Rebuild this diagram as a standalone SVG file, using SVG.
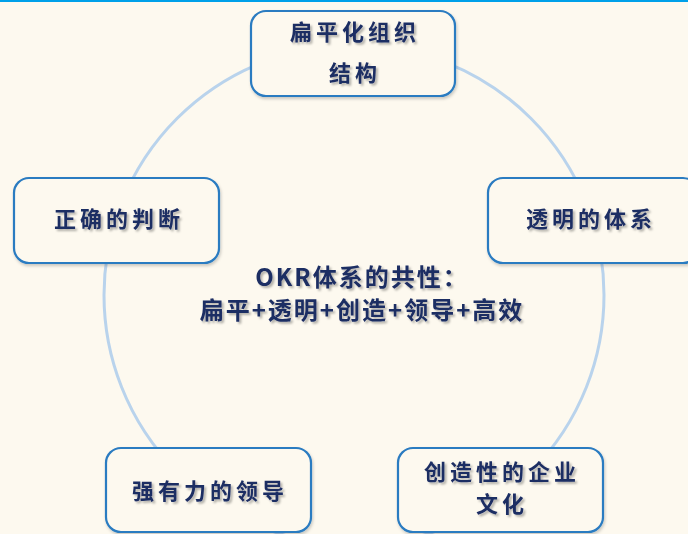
<svg xmlns="http://www.w3.org/2000/svg" width="688" height="534" viewBox="0 0 688 534">
<defs>
<filter id="ts" x="-10%" y="-30%" width="130%" height="170%">
<feGaussianBlur in="SourceAlpha" stdDeviation="1.2"/>
<feOffset dx="2" dy="2" result="b"/>
<feFlood flood-color="#000" flood-opacity="0.3"/>
<feComposite in2="b" operator="in"/>
<feMerge><feMergeNode/><feMergeNode in="SourceGraphic"/></feMerge>
</filter>
<filter id="bs" x="-10%" y="-10%" width="130%" height="130%">
<feGaussianBlur in="SourceAlpha" stdDeviation="1.5"/>
<feOffset dx="1" dy="2" result="b"/>
<feFlood flood-color="#000" flood-opacity="0.2"/>
<feComposite in2="b" operator="in"/>
<feMerge><feMergeNode/><feMergeNode in="SourceGraphic"/></feMerge>
</filter>
</defs>
<style>
.box{fill:#fdf9ef;stroke:#2b7bc1;stroke-width:2.2;filter:url(#bs)}
.t{font-family:"Noto Sans CJK SC","Liberation Sans",sans-serif;font-weight:bold;font-size:22px;fill:#1c2d63;text-anchor:middle;letter-spacing:4px;filter:url(#ts)}
.c{font-size:24px;letter-spacing:2px}
</style>
<rect width="688" height="534" fill="#fdf9ef"/>
<rect width="688" height="2" fill="#00a0e9"/>
<g id="connectors">
<circle cx="354" cy="295" r="250" fill="none" stroke="#b9d3ec" stroke-width="3"/>
</g>
<g id="center">
<text class="t c" x="362" y="286">OKR体系的共性：</text>
<text class="t c" x="362" y="319">扁平+透明+创造+领导+高效</text>
</g>
<g id="n1">
<rect class="box" x="251" y="11" width="204" height="85" rx="15"/>
<text class="t" x="355" y="40">扁平化组织</text>
<text class="t" x="355" y="81">结构</text>
</g>
<g id="n2">
<rect class="box" x="488" y="178" width="210" height="85" rx="15"/>
<text class="t" x="591" y="227">透明的体系</text>
</g>
<g id="n3">
<rect class="box" x="398" y="448" width="205" height="84" rx="15"/>
<text class="t" x="502" y="480">创造性的企业</text>
<text class="t" x="502" y="512">文化</text>
</g>
<g id="n4">
<rect class="box" x="106" y="448" width="205" height="84" rx="15"/>
<text class="t" x="210" y="499">强有力的领导</text>
</g>
<g id="n5">
<rect class="box" x="14" y="178" width="205" height="85" rx="15"/>
<text class="t" x="119" y="227">正确的判断</text>
</g>
</svg>
